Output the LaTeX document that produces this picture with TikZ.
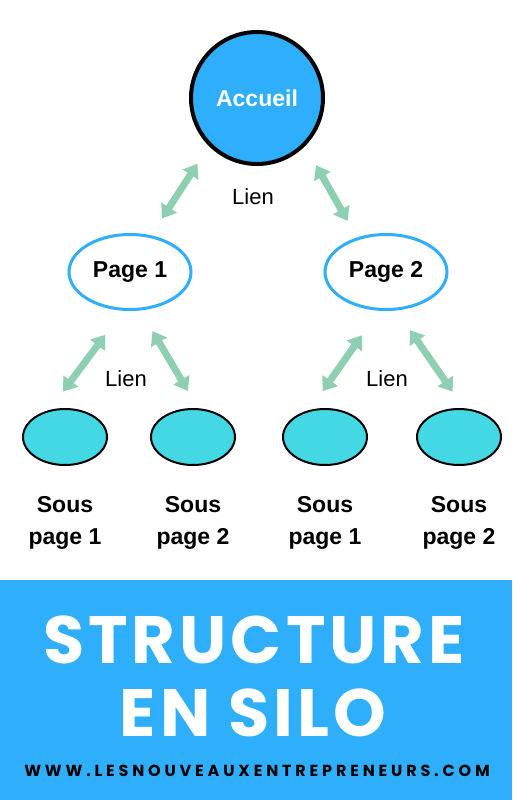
\documentclass[tikz,border=0pt]{standalone}
\usepackage{fontspec}
\setmainfont{Liberation Sans}
\newfontfamily\titrefont[LetterSpace=6]{Poppins}
\newfontfamily\sitefont[LetterSpace=24]{Poppins}
\usepackage{tikz}
\usetikzlibrary{arrows.meta,positioning,shapes.geometric}
\definecolor{bleu}{HTML}{2EAEFB}
\definecolor{turquoise}{HTML}{44D7E4}
\definecolor{vert}{HTML}{8DCFB0}
\tikzset{
  accueil/.style={circle, draw=black, line width=4pt, fill=bleu, minimum size=132pt,
                  inner sep=0pt, text=white, font=\fontsize{23}{27}\selectfont\bfseries},
  page/.style={ellipse, draw=bleu, line width=3pt, fill=white, minimum width=122pt,
               minimum height=75pt, inner sep=0pt, font=\fontsize{23}{27}\selectfont\bfseries},
  souspage/.style={ellipse, draw=black, line width=2pt, fill=turquoise,
                   minimum width=84pt, minimum height=56pt},
  etiquette/.style={align=center, inner sep=0pt, font=\fontsize{23}{32}\selectfont\bfseries},
  lien/.style={inner sep=0pt, font=\fontsize{22}{26}\selectfont},
  fleche/.style={{Triangle[width=18pt,length=13pt]}-{Triangle[width=18pt,length=13pt]},
                 line width=7pt, draw=vert},
  titre/.style={text=white, inner sep=0pt, font=\titrefont\fontsize{67}{72}\selectfont\bfseries},
  site/.style={text=black, inner sep=0pt, font=\sitefont\fontsize{16}{18}\selectfont\bfseries},
}
\begin{document}
\begin{tikzpicture}[x=1pt, y=-1pt]
  \useasboundingbox (0,0) rectangle (512,800);
  \fill[white] (0,0) rectangle (512,800);
  \fill[bleu] (0,580) rectangle (512,800);
  % arbre
  \node[accueil] (acc) at (257,98) {Accueil};
  \node[page] (p1) at (130,272) {Page 1};
  \node[page] (p2) at (386,272) {Page 2};
  \node[souspage] (s1) at (65,437) {};
  \node[souspage] (s2) at (193,437) {};
  \node[souspage] (s3) at (325,437) {};
  \node[souspage] (s4) at (459,437) {};
  \node[etiquette, below=30pt of s1] (e1) {Sous\\page 1};
  \node[etiquette, below=30pt of s2] (e2) {Sous\\page 2};
  \node[etiquette, below=30pt of s3] (e3) {Sous\\page 1};
  \node[etiquette, below=30pt of s4] (e4) {Sous\\page 2};
  \node[lien] (l0) at (253,197) {Lien};
  \node[lien] (l1) at (126,379) {Lien};
  \node[lien] (l2) at (387,379) {Lien};
  % liens
  \draw[fleche, shorten <=21pt, shorten >=20pt] (acc.225) -- (p1.60);
  \draw[fleche, shorten <=22pt, shorten >=19pt] (acc.315) -- (p2.130);
  \draw[fleche, shorten <=30pt, shorten >=23pt] (p1.260) -- (s1.120);
  \draw[fleche, shorten <=24pt, shorten >=20pt] (p1.285) -- (s2.80);
  \draw[fleche, shorten <=30pt, shorten >=23pt] (p2.260) -- (s3.120);
  \draw[fleche, shorten <=24pt, shorten >=20pt] (p2.285) -- (s4.80);
  % bandeau
  \node[titre] (t1) at (254,640) {STRUCTURE};
  \node[titre] (t2) at (253,713) {EN SILO};
  \node[site] (url) at (257,771) {WWW.LESNOUVEAUXENTREPRENEURS.COM};
\end{tikzpicture}
\end{document}
